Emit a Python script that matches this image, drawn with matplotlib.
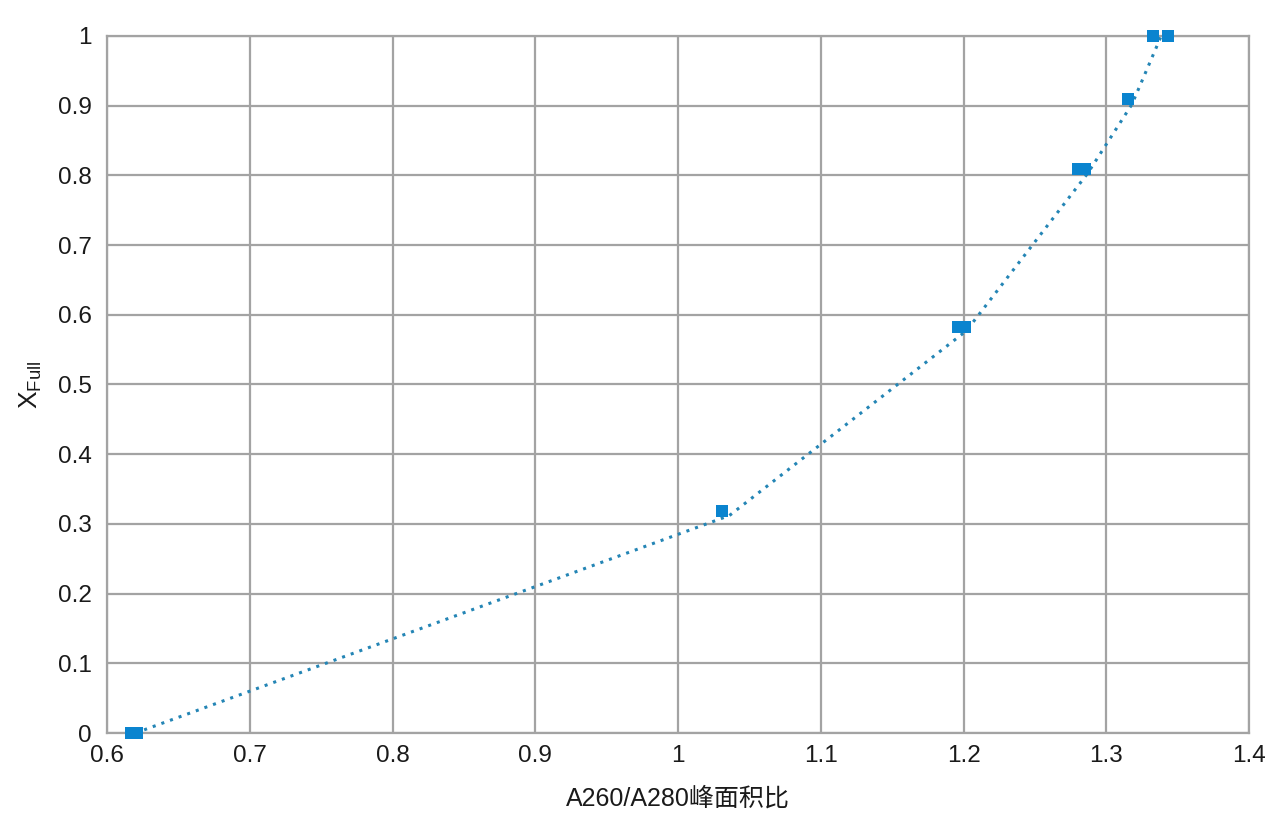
import matplotlib
matplotlib.use("Agg")
import matplotlib.pyplot as plt
from matplotlib.ticker import FuncFormatter, MultipleLocator

plt.rcParams['font.family'] = ['Liberation Sans', 'Noto Sans CJK SC', 'DejaVu Sans']

# measured points
ratio = [0.617, 0.621, 1.031, 1.196, 1.201, 1.280, 1.285, 1.315, 1.3325, 1.343]
xfull = [0.0, 0.0, 0.318, 0.583, 0.583, 0.809, 0.809, 0.910, 1.0, 1.0]

# dotted trend line
trend_x = [0.620, 1.036, 1.202, 1.287, 1.318, 1.3385]
trend_y = [0.0, 0.312, 0.577, 0.803, 0.902, 1.0]

x_label = "A260/A280峰面积比"
y_label = r"X$_{\mathregular{Full}}$"

fig = plt.figure(figsize=(12.8, 8.33), dpi=100)
ax = fig.add_axes([107/1280, 1-733/833, (1249-107)/1280, (733-36)/833])

grid_c = '#a3a3a3'
ax.plot(trend_x, trend_y, linestyle=(0, (1, 2)), color='#2485b5', linewidth=2.2, zorder=3)
ax.plot(ratio, xfull, linestyle='none', marker='s', markersize=8.4,
        color='#0a84cf', markeredgewidth=0, zorder=4, clip_on=False)

ax.set_xlim(0.6, 1.4)
ax.set_ylim(0, 1)
ax.xaxis.set_major_locator(MultipleLocator(0.1))
ax.yaxis.set_major_locator(MultipleLocator(0.1))

def fmt(v, pos):
    s = f"{v:.1f}"
    if s.endswith('.0'):
        s = s[:-2]
    return s

ax.xaxis.set_major_formatter(FuncFormatter(fmt))
ax.yaxis.set_major_formatter(FuncFormatter(fmt))
ax.grid(True, color=grid_c, linewidth=1.6)
ax.set_axisbelow(True)
for sp in ax.spines.values():
    sp.set_color(grid_c)
    sp.set_linewidth(1.6)
ax.tick_params(length=0, labelsize=17.5, pad=9, colors='#1a1a1a')
ax.tick_params(axis='y', pad=11)

ax.set_xlabel(x_label, fontsize=18, color='#1a1a1a', labelpad=14)
ax.set_ylabel(y_label, fontsize=19, color='#1a1a1a', labelpad=10)

fig.savefig("out.png", dpi=100)
